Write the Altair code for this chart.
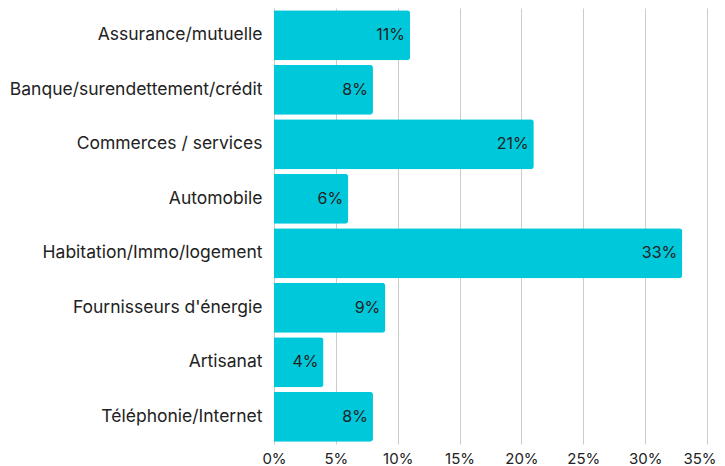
import altair as alt
import pandas as pd

categories = ["Assurance/mutuelle", "Banque/surendettement/crédit", "Commerces / services",
              "Automobile", "Habitation/Immo/logement", "Fournisseurs d'énergie",
              "Artisanat", "Téléphonie/Internet"]
values = [11, 8, 21, 6, 33, 9, 4, 8]
labels = ["11%", "8%", "21%", "6%", "33%", "9%", "4%", "8%"]
ticks = [0, 5, 10, 15, 20, 25, 30, 35]

df = pd.DataFrame({"cat": categories, "val": values, "lab": labels})

FONT = "Inter"

x = alt.X("val:Q", scale=alt.Scale(domain=[0, 35], nice=False),
          axis=alt.Axis(values=ticks, labelExpr="datum.value + '%'",
                        title=None, grid=True, gridColor="#cccccc", domain=False, ticks=False,
                        labelFlush=False,
                        labelAlign=alt.ExprRef("datum.value == 35 ? 'right' : 'center'"),
                        labelOffset=alt.ExprRef("datum.value == 35 ? 9 : 0"),
                        labelFont=FONT, labelFontSize=15, labelColor="#222222", labelPadding=7))
y = alt.Y("cat:N", sort=categories,
          scale=alt.Scale(paddingInner=0.08, paddingOuter=0.04),
          axis=alt.Axis(title=None, domain=False, ticks=False, labelFont=FONT,
                        labelFontSize=17.5, labelColor="#222222", labelPadding=12, labelLimit=400))

bars = alt.Chart(df).mark_bar(color="#00C8DB", cornerRadiusEnd=3).encode(x=x, y=y)
text = alt.Chart(df).mark_text(align="right", baseline="middle", dx=-5, font=FONT,
                               fontSize=16, color="#222222").encode(
    x="val:Q", y=alt.Y("cat:N", sort=categories), text="lab:N")

chart = (bars + text).properties(
    width=433, height=436,
    autosize=alt.AutoSizeParams(type="none"),
    padding={"left": 266, "top": 0, "right": 10, "bottom": 22},
).configure_view(stroke=None)

chart.save("out.html", embed_options={"renderer": "svg", "actions": False})
